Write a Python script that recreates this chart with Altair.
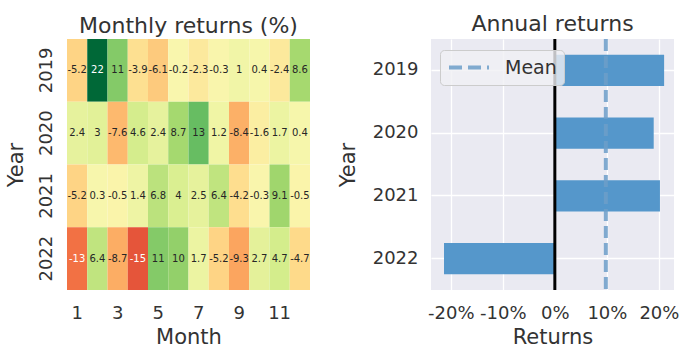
import altair as alt
import pandas as pd

years = ["2019", "2020", "2021", "2022"]
months = list(range(1, 13))
ret_2019 = [-5.2, 22, 11, -3.9, -6.1, -0.2, -2.3, -0.3, 1, 0.4, -2.4, 8.6]
ret_2020 = [2.4, 3, -7.6, 4.6, 2.4, 8.7, 13, 1.2, -8.4, -1.6, 1.7, 0.4]
ret_2021 = [-5.2, 0.3, -0.5, 1.4, 6.8, 4, 2.5, 6.4, -4.2, -0.3, 9.1, -0.5]
ret_2022 = [-13, 6.4, -8.7, -15, 11, 10, 1.7, -5.2, -9.3, 2.7, 4.7, -4.7]
annual_returns = [0.210, 0.190, 0.202, -0.213]
mean_return = 0.098
x_ticks = [-0.2, -0.1, 0.0, 0.1, 0.2]
month_ticks = [1, 3, 5, 7, 9, 11]

FONT = "DejaVu Sans"
TXT = "#333333"

rows = []
for y, vals in zip(years, [ret_2019, ret_2020, ret_2021, ret_2022]):
    for m, v in zip(months, vals):
        rows.append({"Year": y, "Month": m, "v": v, "lab": f"{v:.2g}"})
heat_df = pd.DataFrame(rows)

ann_df = pd.DataFrame({"Year": years, "ret": annual_returns})
mean_df = pd.DataFrame({"label": ["Mean"], "value": [mean_return]})
zero_df = pd.DataFrame({"z": [0.0]})

W, H = 243, 251

xh = alt.X("Month:O", title="Month",
           scale=alt.Scale(paddingInner=0, paddingOuter=0),
           axis=alt.Axis(values=month_ticks, labelAngle=0, ticks=False, domain=False,
                         labelPadding=14, titlePadding=4, labelFontSize=18, titleFontSize=21,
                         labelColor=TXT, titleColor=TXT, labelFont=FONT, titleFont=FONT,
                         titleFontWeight="normal"))
yh = alt.Y("Year:O", title="Year",
           scale=alt.Scale(paddingInner=0, paddingOuter=0),
           axis=alt.Axis(labelAngle=270, labelAlign="center", labelBaseline="bottom",
                         ticks=False, domain=False, labelPadding=12, titlePadding=11,
                         labelFontSize=18, titleFontSize=21, labelColor=TXT, titleColor=TXT,
                         labelFont=FONT, titleFont=FONT, titleFontWeight="normal"))

cells = alt.Chart(heat_df).mark_rect().encode(
    x=xh, y=yh,
    color=alt.Color("v:Q", scale=alt.Scale(scheme="redyellowgreen", domain=[-22, 22]), legend=None),
)
labels = alt.Chart(heat_df).mark_text(font=FONT, fontSize=10).encode(
    x=alt.X("Month:O"), y=alt.Y("Year:O"), text="lab:N",
    color=alt.condition("datum.v > 15 || datum.v < -10", alt.value("white"), alt.value("#262626")),
)
heat = alt.layer(cells, labels).properties(
    width=W, height=H,
    title=alt.TitleParams("Monthly returns (%)", fontSize=22, font=FONT, fontWeight="normal",
                          color=TXT, offset=1),
)

xa = alt.X("ret:Q", title="Returns",
           scale=alt.Scale(domain=[-0.238, 0.229], nice=False, zero=False),
           axis=alt.Axis(values=x_ticks, ticks=False, domain=False, grid=True, gridColor="white",
                         gridWidth=1.3,
                         labelExpr="(datum.value < 0 ? '-' : '') + format(abs(datum.value) * 100, '.0f') + '%'",
                         labelPadding=14, titlePadding=4, labelFontSize=18, titleFontSize=21,
                         labelColor=TXT, titleColor=TXT, labelFont=FONT, titleFont=FONT,
                         titleFontWeight="normal"))
ya = alt.Y("Year:N", title="Year", sort=years,
           scale=alt.Scale(paddingInner=0.5, paddingOuter=0.25),
           axis=alt.Axis(ticks=False, domain=False, grid=True, gridColor="white", gridWidth=1.3,
                         bandPosition=0.5, labelPadding=13, titlePadding=14,
                         labelFontSize=18, titleFontSize=21, labelColor=TXT, titleColor=TXT,
                         labelFont=FONT, titleFont=FONT, titleFontWeight="normal"))

bars = alt.Chart(ann_df).mark_bar(color="#5597cb").encode(x=xa, y=ya)
zero = alt.Chart(zero_df).mark_rule(color="black", strokeWidth=3).encode(x=alt.X("z:Q"))
mean = alt.Chart(mean_df).mark_rule(strokeWidth=4, strokeDash=[12, 5], opacity=0.85).encode(
    x=alt.X("value:Q"),
    color=alt.Color("label:N", scale=alt.Scale(range=["#6d9ec9"]),
                    legend=alt.Legend(title=None, orient="none", legendX=9, legendY=11,
                                      symbolType="stroke", symbolStrokeWidth=4,
                                      symbolDash=[13, 6], symbolSize=1600, labelOffset=14,
                                      clipHeight=21,
                                      labelFontSize=19, labelFont=FONT, labelColor=TXT,
                                      padding=7, fillColor="rgba(240,240,244,0.8)",
                                      strokeColor="#cccccc", cornerRadius=4)),
)
annual = alt.layer(bars, zero, mean).properties(
    width=W, height=H,
    view=alt.ViewBackground(fill="#EAEAF2", strokeWidth=0),
    title=alt.TitleParams("Annual returns", fontSize=22, font=FONT, fontWeight="normal",
                          color=TXT, offset=1),
)

chart = alt.hconcat(heat, annual, spacing=27).resolve_scale(color="independent").properties(
    padding={"left": 5, "top": 13, "right": 5, "bottom": 0}
).configure_view(strokeWidth=0)

chart.save("out.html", embed_options={"renderer": "svg", "actions": False})
